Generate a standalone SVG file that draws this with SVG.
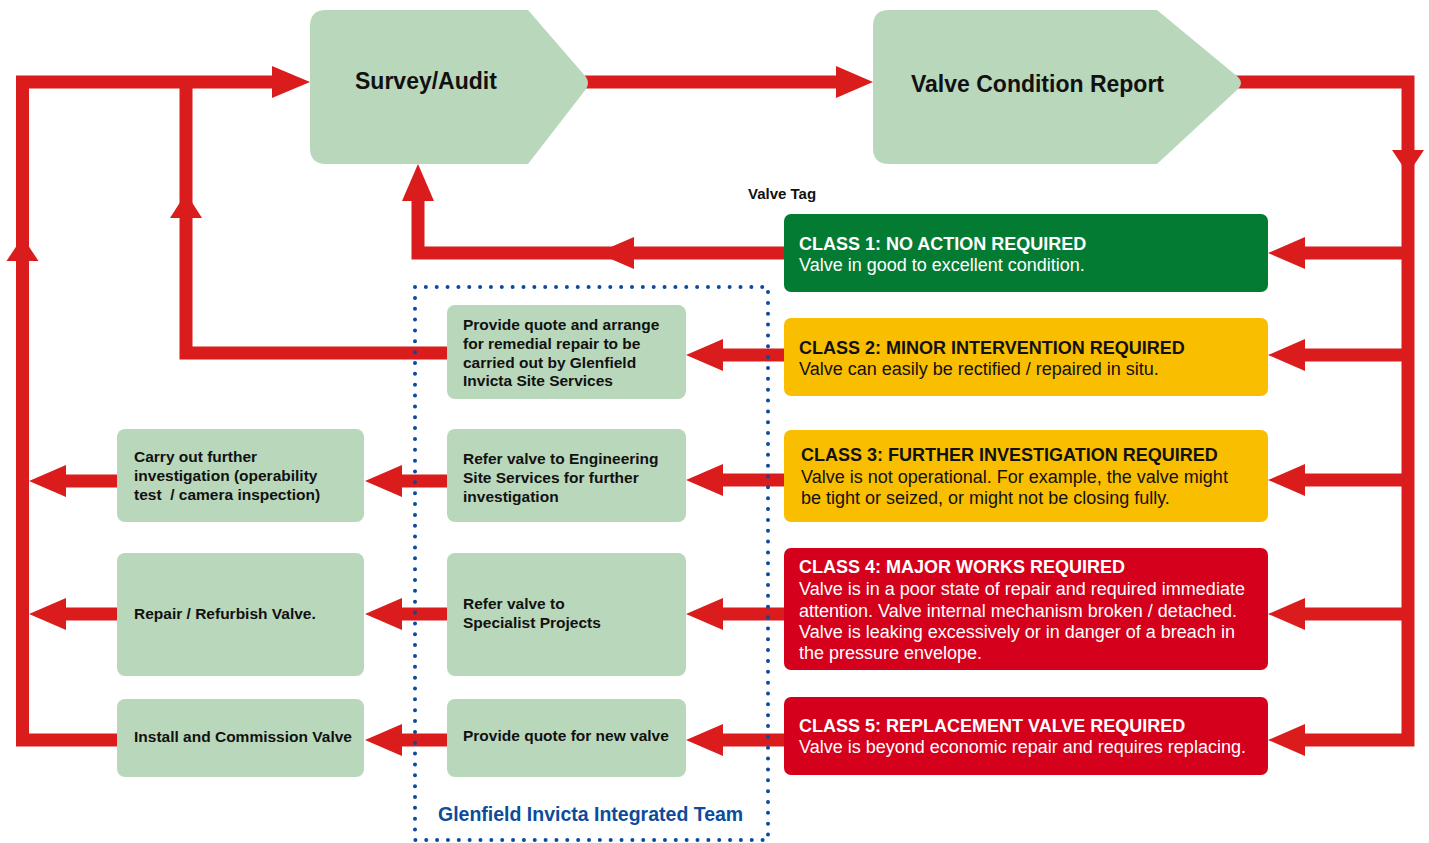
<svg xmlns="http://www.w3.org/2000/svg" width="1429" height="843" viewBox="0 0 1429 843">
<style>
.ln{fill:none;stroke:#DA1C1C;stroke-width:13;stroke-linejoin:miter;stroke-linecap:butt}
.ah{fill:#DA1C1C}
.lg{fill:#B9D7BB}
.t{font-family:"Liberation Sans",Arial,sans-serif;font-weight:bold;fill:#111}
.big{font-size:23px}
.mid{font-size:15.5px}
.ct{font-family:"Liberation Sans",Arial,sans-serif;font-size:18px;font-weight:bold}
.cb{font-family:"Liberation Sans",Arial,sans-serif;font-size:18px}
.w{fill:#FFFFFF}
.k{fill:#111111}
</style>
<rect width="1429" height="843" fill="#FFFFFF"/>
<g id="connectors">
  <!-- main loop into Survey -->
  <polyline class="ln" points="117,740 22.5,740 22.5,82 274,82"/>
  <polygon class="ah" points="272,66 310,82 272,98"/>
  <polygon class="ah" points="22.5,237 38.5,261 6.5,261"/>
  <!-- class 2 action loop -->
  <polyline class="ln" points="447,353 186,353 186,82"/>
  <polygon class="ah" points="186,193 202,218 170,218"/>
  <!-- class 1 back to survey -->
  <polyline class="ln" points="784,253 418,253 418,199"/>
  <polygon class="ah" points="418,164 434,201 402,201"/>
  <polygon class="ah" points="597,253 634,237 634,269"/>
  <!-- survey to report -->
  <line class="ln" x1="585" y1="82" x2="838" y2="82"/>
  <polygon class="ah" points="836,66 873,82 836,98"/>
  <!-- report to classes -->
  <polyline class="ln" points="1236,82 1408,82 1408,740 1303,740"/>
  <polygon class="ah" points="1392,150 1424,150 1408,174"/>
  <line class="ln" x1="1408" y1="253" x2="1303" y2="253"/>
  <line class="ln" x1="1408" y1="355" x2="1303" y2="355"/>
  <line class="ln" x1="1408" y1="480" x2="1303" y2="480"/>
  <line class="ln" x1="1408" y1="614" x2="1303" y2="614"/>
  <polygon class="ah" points="1268,253 1305,237 1305,269"/>
  <polygon class="ah" points="1268,355 1305,339 1305,371"/>
  <polygon class="ah" points="1268,480 1305,464 1305,496"/>
  <polygon class="ah" points="1268,614 1305,598 1305,630"/>
  <polygon class="ah" points="1268,740 1305,724 1305,756"/>
  <!-- classes to team actions -->
  <line class="ln" x1="790" y1="355" x2="721" y2="355"/>
  <line class="ln" x1="790" y1="480" x2="721" y2="480"/>
  <line class="ln" x1="790" y1="614" x2="721" y2="614"/>
  <line class="ln" x1="790" y1="740" x2="721" y2="740"/>
  <polygon class="ah" points="686,355 723,339 723,371"/>
  <polygon class="ah" points="686,480 723,464 723,496"/>
  <polygon class="ah" points="686,614 723,598 723,630"/>
  <polygon class="ah" points="686,740 723,724 723,756"/>
  <!-- team actions to field actions -->
  <line class="ln" x1="450" y1="481" x2="400" y2="481"/>
  <line class="ln" x1="450" y1="614" x2="400" y2="614"/>
  <line class="ln" x1="450" y1="740" x2="400" y2="740"/>
  <polygon class="ah" points="365,481 402,465 402,497"/>
  <polygon class="ah" points="365,614 402,598 402,630"/>
  <polygon class="ah" points="365,740 402,724 402,756"/>
  <!-- field actions back to loop -->
  <line class="ln" x1="120" y1="481" x2="64" y2="481"/>
  <line class="ln" x1="120" y1="614" x2="64" y2="614"/>
  <polygon class="ah" points="29,481 66,465 66,497"/>
  <polygon class="ah" points="29,614 66,598 66,630"/>
</g>
<g id="survey">
  <path class="lg" d="M326 10 L528 10 L586 77 Q590 83 586 89 L528 164 L326 164 Q310 164 310 148 L310 26 Q310 10 326 10 Z"/>
  <text class="t big" x="355" y="89">Survey/Audit</text>
</g>
<g id="report">
  <path class="lg" d="M889 10 L1157 10 L1238 77 Q1244 83 1238 89 L1157 164 L889 164 Q873 164 873 148 L873 26 Q873 10 889 10 Z"/>
  <text class="t big" x="911" y="92">Valve Condition Report</text>
</g>
<g id="valve-tag">
  <text class="t" style="font-size:15px" x="748" y="199">Valve Tag</text>
</g>
<g id="class1">
  <rect x="784" y="214" width="484" height="78" rx="7" fill="#047B33"/>
  <text class="ct w" x="799" y="250">CLASS 1: NO ACTION REQUIRED</text>
  <text class="cb w" x="799" y="271">Valve in good to excellent condition.</text>
</g>
<g id="class2">
  <rect x="784" y="318" width="484" height="78" rx="7" fill="#F9BE00"/>
  <text class="ct k" x="799" y="354">CLASS 2: MINOR INTERVENTION REQUIRED</text>
  <text class="cb k" x="799" y="375">Valve can easily be rectified / repaired in situ.</text>
</g>
<g id="class3">
  <rect x="784" y="430" width="484" height="92" rx="7" fill="#F9BE00"/>
  <text class="ct k" x="801" y="461">CLASS 3: FURTHER INVESTIGATION REQUIRED</text>
  <text class="cb k" x="801" y="483">Valve is not operational. For example, the valve might</text>
  <text class="cb k" x="801" y="504">be tight or seized, or might not be closing fully.</text>
</g>
<g id="class4">
  <rect x="784" y="548" width="484" height="122" rx="7" fill="#D5001C"/>
  <text class="ct w" x="799" y="573">CLASS 4: MAJOR WORKS REQUIRED</text>
  <text class="cb w" x="799" y="595">Valve is in a poor state of repair and required immediate</text>
  <text class="cb w" x="799" y="617">attention. Valve internal mechanism broken / detached.</text>
  <text class="cb w" x="799" y="638">Valve is leaking excessively or in danger of a breach in</text>
  <text class="cb w" x="799" y="659">the pressure envelope.</text>
</g>
<g id="class5">
  <rect x="784" y="697" width="484" height="78" rx="7" fill="#D5001C"/>
  <text class="ct w" x="799" y="732">CLASS 5: REPLACEMENT VALVE REQUIRED</text>
  <text class="cb w" x="799" y="753">Valve is beyond economic repair and requires replacing.</text>
</g>
<g id="remedial-quote">
  <rect class="lg" x="447" y="305" width="239" height="94" rx="8"/>
  <text class="t mid" x="463" y="330">Provide quote and arrange</text>
  <text class="t mid" x="463" y="349">for remedial repair to be</text>
  <text class="t mid" x="463" y="368">carried out by Glenfield</text>
  <text class="t mid" x="463" y="386">Invicta Site Services</text>
</g>
<g id="refer-engineering">
  <rect class="lg" x="447" y="429" width="239" height="93" rx="8"/>
  <text class="t mid" x="463" y="464">Refer valve to Engineering</text>
  <text class="t mid" x="463" y="483">Site Services for further</text>
  <text class="t mid" x="463" y="502">investigation</text>
</g>
<g id="refer-specialist">
  <rect class="lg" x="447" y="553" width="239" height="123" rx="8"/>
  <text class="t mid" x="463" y="609">Refer valve to</text>
  <text class="t mid" x="463" y="628">Specialist Projects</text>
</g>
<g id="new-valve-quote">
  <rect class="lg" x="447" y="699" width="239" height="78" rx="8"/>
  <text class="t mid" x="463" y="741">Provide quote for new valve</text>
</g>
<g id="further-investigation">
  <rect class="lg" x="117" y="429" width="247" height="93" rx="8"/>
  <text class="t mid" x="134" y="462">Carry out further</text>
  <text class="t mid" x="134" y="481">investigation (operability</text>
  <text class="t mid" x="134" y="500" xml:space="preserve">test  / camera inspection)</text>
</g>
<g id="repair">
  <rect class="lg" x="117" y="553" width="247" height="123" rx="8"/>
  <text class="t mid" x="134" y="619">Repair / Refurbish Valve.</text>
</g>
<g id="install">
  <rect class="lg" x="117" y="699" width="247" height="78" rx="8"/>
  <text class="t mid" x="134" y="742">Install and Commission Valve</text>
</g>
<g id="integrated-team">
  <rect x="415" y="287" width="353" height="553" fill="none" stroke="#0B4A9C" stroke-width="4" stroke-linecap="round" stroke-dasharray="0 10.85"/>
  <text class="t" style="font-size:19.5px;fill:#0D4C9B" x="438" y="821">Glenfield Invicta Integrated Team</text>
</g>
</svg>
